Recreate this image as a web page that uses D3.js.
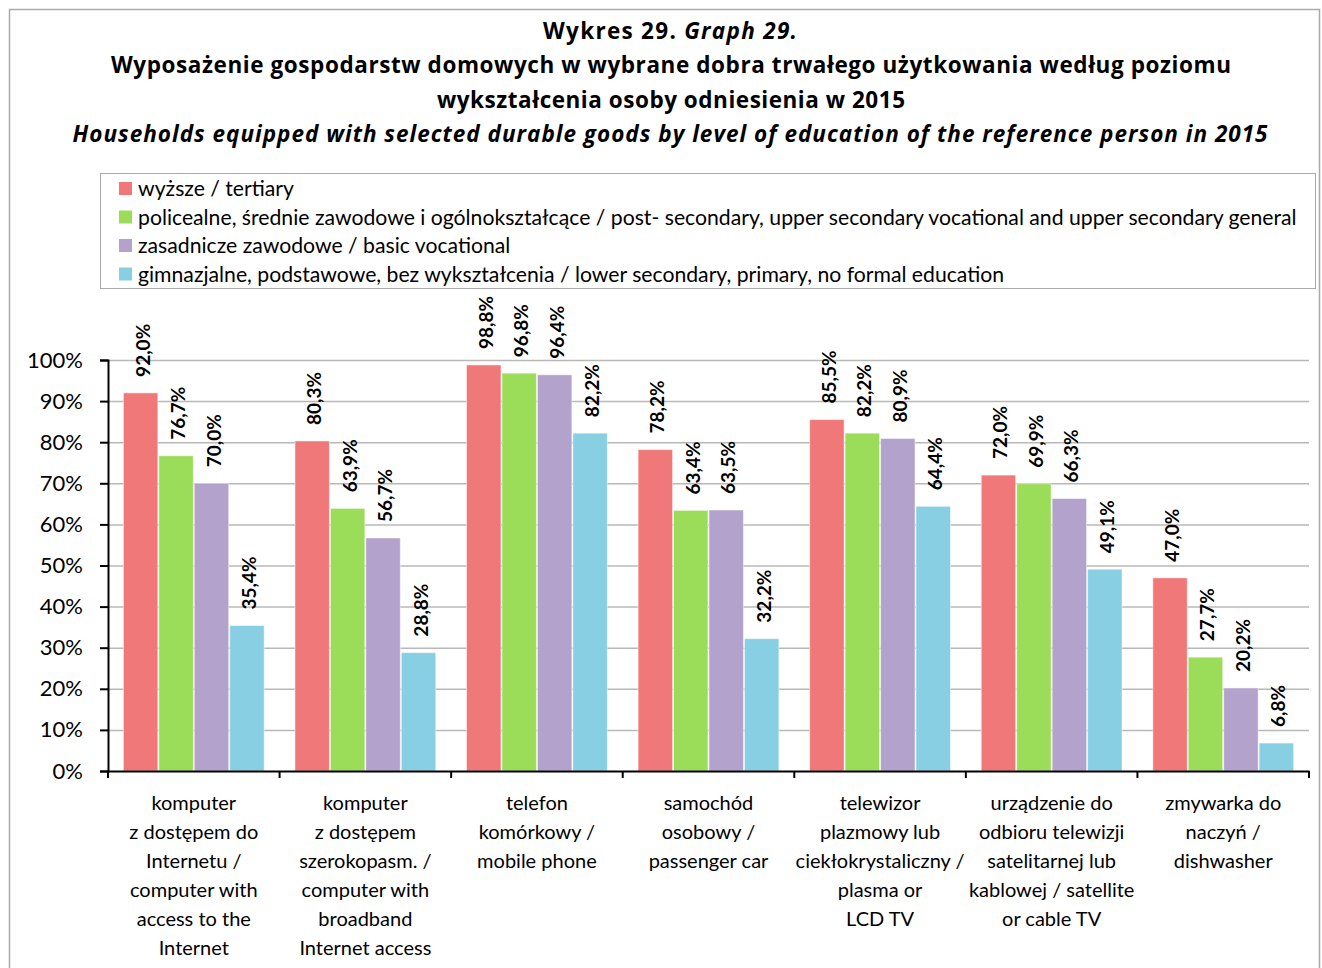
<!DOCTYPE html>
<html>
<head>
<meta charset="utf-8">
<script src="https://cdnjs.cloudflare.com/ajax/libs/d3/7.8.5/d3.min.js"></script>
<style>
  body { margin: 0; background: #fff; }
  text { font-family: Lato, "Open Sans", sans-serif; fill: #000; }
  .title { font-family: "Open Sans", sans-serif; font-size: 22.5px; font-weight: bold; }
</style>
</head>
<body>
<div id="chart"></div>
<script>
// data
let categories = [
  ["komputer", "z dostępem do", "Internetu /", "computer with", "access to the", "Internet"],
  ["komputer", "z dostępem", "szerokopasm. /", "computer with", "broadband", "Internet access"],
  ["telefon", "komórkowy /", "mobile phone"],
  ["samochód", "osobowy /", "passenger car"],
  ["telewizor", "plazmowy lub", "ciekłokrystaliczny /", "plasma or", "LCD TV"],
  ["urządzenie do", "odbioru telewizji", "satelitarnej lub", "kablowej / satellite", "or cable TV"],
  ["zmywarka do", "naczyń /", "dishwasher"]
];
let seriesNames = [
  "wyższe / tertiary",
  "policealne, średnie zawodowe i ogólnokształcące / post- secondary, upper secondary vocational and upper secondary general",
  "zasadnicze zawodowe / basic vocational",
  "gimnazjalne, podstawowe, bez wykształcenia / lower secondary, primary, no formal education"
];
let tertiary   = [92.0, 80.3, 98.8, 78.2, 85.5, 72.0, 47.0];
let secondary  = [76.7, 63.9, 96.8, 63.4, 82.2, 69.9, 27.7];
let vocational = [70.0, 56.7, 96.4, 63.5, 80.9, 66.3, 20.2];
let primary    = [35.4, 28.8, 82.2, 32.2, 64.4, 49.1, 6.8];
let yTicks = [0, 10, 20, 30, 40, 50, 60, 70, 80, 90, 100];

let allSeries = [tertiary, secondary, vocational, primary];
let colors = ["#f07878", "#9bdc58", "#b2a2cc", "#88cfe3"];

let W = 1322, H = 968;
let svg = d3.select("#chart").append("svg")
  .attr("width", W)
  .attr("height", H);

// outer frame
svg.append("rect")
  .attr("x", 9.5).attr("y", 9.5)
  .attr("width", 1310).attr("height", 1000)
  .attr("fill", "none")
  .attr("stroke", "#aaa")
  .attr("stroke-width", 1.5);

// titles (widths stretched to match original layout)
let t1 = svg.append("text").attr("class", "title").attr("x", 670).attr("y", 39)
  .attr("text-anchor", "middle")
  .attr("textLength", 254).attr("lengthAdjust", "spacing");
t1.append("tspan").text("Wykres  29. ");
t1.append("tspan").style("font-style", "italic").text("Graph 29.");

svg.append("text").attr("class", "title").attr("x", 671).attr("y", 73)
  .attr("text-anchor", "middle")
  .attr("textLength", 1120).attr("lengthAdjust", "spacing")
  .text("Wyposażenie gospodarstw domowych w wybrane dobra trwałego użytkowania według poziomu");
svg.append("text").attr("class", "title").attr("x", 671).attr("y", 108)
  .attr("text-anchor", "middle")
  .attr("textLength", 468).attr("lengthAdjust", "spacing")
  .text("wykształcenia osoby odniesienia w 2015");
svg.append("text").attr("class", "title").attr("x", 670).attr("y", 142)
  .attr("text-anchor", "middle")
  .attr("textLength", 1195).attr("lengthAdjust", "spacing")
  .style("font-style", "italic")
  .text("Households equipped with selected durable goods by level of education of the reference person in 2015");

// legend
let legend = svg.append("g");
legend.append("rect")
  .attr("x", 100.5).attr("y", 173.5)
  .attr("width", 1215).attr("height", 115)
  .attr("fill", "#fff").attr("stroke", "#aaa");

seriesNames.forEach(function(name, i) {
  let ly = 189 + i * 28.5;
  legend.append("rect")
    .attr("x", 119).attr("y", ly - 7)
    .attr("width", 13).attr("height", 13)
    .attr("fill", colors[i]);
  legend.append("text")
    .attr("x", 138).attr("y", ly + 7)
    .style("font-size", "21.2px")
    .text(name);
});

// plot
let margin = {left: 108, right: 13, top: 360, bottom: 197};
let x0 = d3.scaleBand()
  .domain(d3.range(categories.length))
  .range([margin.left, W - margin.right])
  .paddingInner(0).paddingOuter(0);

let x1 = d3.scaleBand()
  .domain(d3.range(allSeries.length))
  .range([0, x0.bandwidth()])
  .paddingOuter(0.42).paddingInner(0);

let y = d3.scaleLinear()
  .domain([0, 100])
  .range([H - margin.bottom, margin.top]);

// grid
svg.append("g")
  .selectAll("line")
  .data(yTicks.slice(1))
  .enter().append("line")
  .attr("x1", margin.left).attr("x2", W - margin.right)
  .attr("y1", d => y(d) + 0.5).attr("y2", d => y(d) + 0.5)
  .attr("stroke", "#b8b8b8").attr("stroke-width", 1.5);

// bars
let groups = svg.append("g")
  .selectAll("g")
  .data(categories)
  .enter().append("g")
  .attr("transform", (d, i) => "translate(" + x0(i) + ",0)");

groups.each(function(c, ci) {
  let g = d3.select(this);
  allSeries.forEach(function(s, si) {
    let v = s[ci];
    g.append("rect")
      .attr("x", x1(si) + 0.5)
      .attr("y", y(v))
      .attr("width", x1.bandwidth() - 1)
      .attr("height", y(0) - y(v))
      .attr("fill", colors[si])
      .attr("stroke", "#fff")
      .attr("stroke-opacity", 0.5)
      .attr("stroke-width", 1);
    let cx = x1(si) + x1.bandwidth() / 2 + 9;
    g.append("text")
      .attr("transform", "translate(" + cx + "," + (y(v) - 16) + ") rotate(-90)")
      .style("font-size", "19px")
      .style("font-weight", "bold")
      .text(v.toFixed(1).replace(".", ",") + "%");
  });
});

// y axis
let yAxis = d3.axisLeft(y)
  .tickValues(yTicks)
  .tickSize(8)
  .tickPadding(17)
  .tickFormat(d => d + "%");

let ya = svg.append("g")
  .attr("transform", "translate(" + margin.left + ",0)")
  .call(yAxis);
ya.select(".domain").attr("stroke", "#000").attr("stroke-width", 2);
ya.selectAll(".tick line").attr("stroke", "#000").attr("stroke-width", 2);
ya.selectAll("text").style("font-size", "22px").style("font-family", "Lato, sans-serif").attr("fill", "#000");

// x axis
let xAxis = d3.axisBottom(x0)
  .tickValues([])
  .tickSizeOuter(0);
let xa = svg.append("g")
  .attr("transform", "translate(0," + y(0) + ")")
  .call(xAxis);
xa.select(".domain").attr("stroke", "#000").attr("stroke-width", 2);

// boundary ticks
xa.selectAll(".bound")
  .data(d3.range(categories.length + 1))
  .enter().append("line")
  .attr("x1", i => i < categories.length ? x0(i) : W - margin.right)
  .attr("x2", i => i < categories.length ? x0(i) : W - margin.right)
  .attr("y1", 0).attr("y2", 7)
  .attr("stroke", "#000").attr("stroke-width", 2);

// category labels
categories.forEach(function(lines, i) {
  let t = svg.append("text")
    .attr("x", x0(i) + x0.bandwidth() / 2)
    .attr("y", 810)
    .attr("text-anchor", "middle")
    .style("font-size", "20px");
  lines.forEach(function(l, li) {
    t.append("tspan")
      .attr("x", x0(i) + x0.bandwidth() / 2)
      .attr("y", 810 + li * 29)
      .text(l);
  });
});
</script>
</body>
</html>
